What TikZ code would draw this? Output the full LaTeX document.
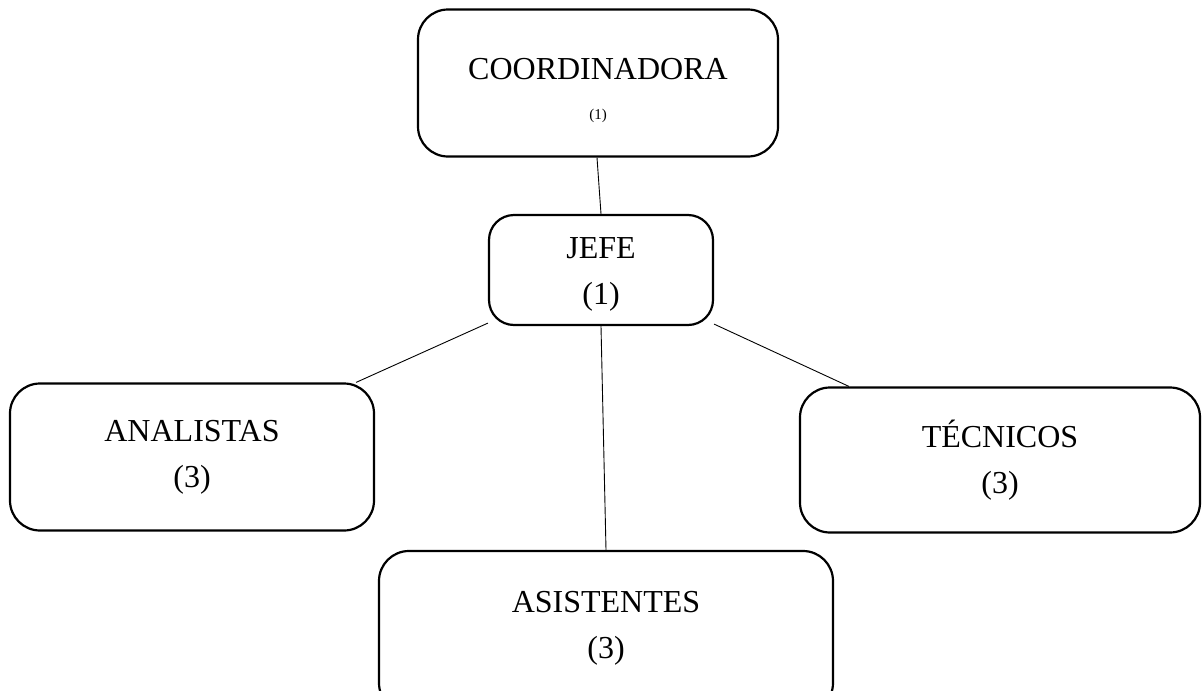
\documentclass[tikz,border=0pt]{standalone}
\usepackage{fontspec}
\setmainfont{Liberation Serif}
\begin{document}
\begin{tikzpicture}[x=1pt,y=-1pt,
  orgbox/.style={draw, line width=2.2pt, rounded corners=30pt, align=center,
    inner sep=0pt, font=\fontsize{32}{46}\selectfont},
  link/.style={line width=0.9pt}]
\useasboundingbox (0,0) rectangle (1203,691);
\clip (0,0) rectangle (1203,691);
% boxes of the chart
\node[orgbox, minimum width=360pt, minimum height=147pt] (coord) at (598,83)
  {\rule{0pt}{36pt}COORDINADORA\\[-6pt]{\fontsize{15}{18}\selectfont (1)}};
\node[orgbox, rounded corners=25pt, minimum width=224pt, minimum height=110pt] (jefe) at (601,270)
  {\rule{0pt}{30pt}JEFE\\(1)};
\node[orgbox, minimum width=364pt, minimum height=147pt] (anal) at (192,457)
  {ANALISTAS\\(3)};
\node[orgbox, minimum width=400pt, minimum height=145pt] (tec) at (1000,460)
  {T\'ECNICOS\\(3)\rule[-6pt]{0pt}{0pt}};
\node[orgbox, minimum width=454pt, minimum height=162pt] (asis) at (606,632)
  {ASISTENTES\\(3)\rule[-14pt]{0pt}{0pt}};
% connectors
\draw[link] ([xshift=-1pt]coord.south) -- (jefe.north);
\draw[link] ([yshift=3pt]jefe.south west) -- ([xshift=-19pt]anal.north east);
\draw[link] (jefe.south) -- (asis.north);
\draw[link] ([yshift=2pt]jefe.south east) -- ([xshift=50pt]tec.north west);
\end{tikzpicture}
\end{document}
